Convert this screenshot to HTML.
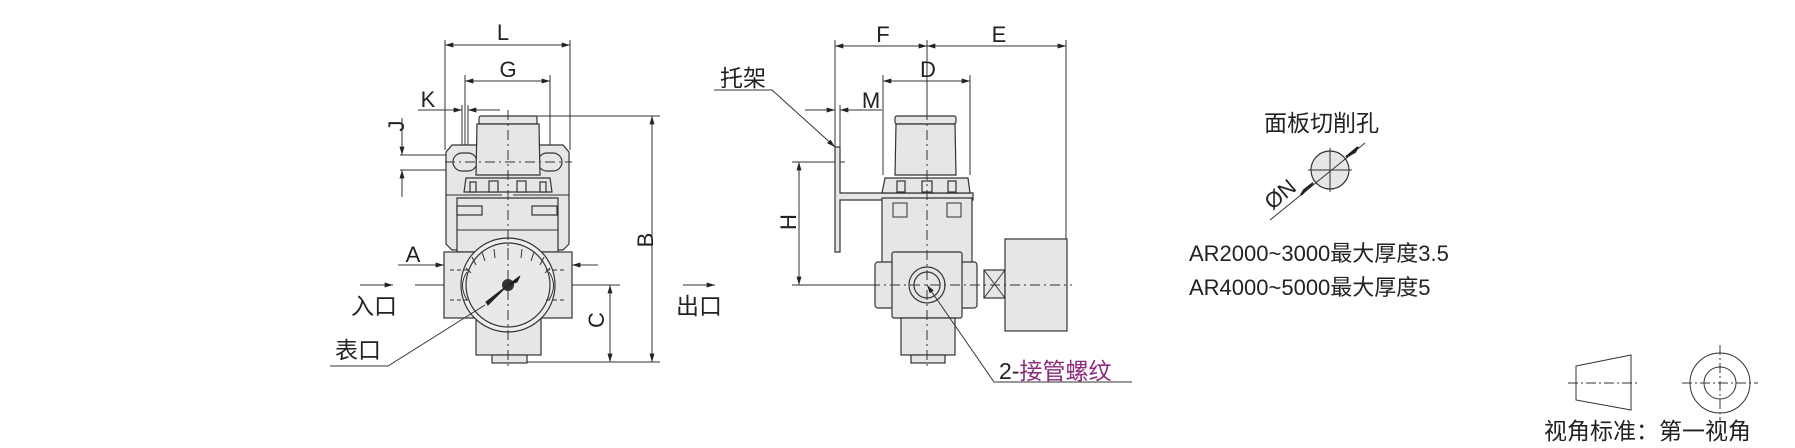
<!DOCTYPE html>
<html><head><meta charset="utf-8"><style>
html,body{margin:0;padding:0;background:#fff;width:1795px;height:448px;overflow:hidden}
svg{display:block}
text{font-family:"Liberation Sans","Noto Sans CJK SC",sans-serif;fill:#222}
</style></head><body>
<svg width="1795" height="448" viewBox="0 0 1795 448" xmlns="http://www.w3.org/2000/svg">
<defs>
<marker id="a" viewBox="0 0 10 6" refX="10" refY="3" markerWidth="14" markerHeight="5" markerUnits="userSpaceOnUse" orient="auto-start-reverse"><path d="M0,0L10,3L0,6z" fill="#222"/></marker>
</defs>
<g stroke="#333" stroke-width="1" fill="none">
<line x1="445" y1="40" x2="445" y2="150"/><line x1="570" y1="40" x2="570" y2="150"/>
<line x1="465" y1="75" x2="465" y2="175"/><line x1="550" y1="75" x2="550" y2="175"/>
<line x1="462" y1="105" x2="462" y2="175"/><line x1="468" y1="105" x2="468" y2="175"/>
<line x1="536" y1="116" x2="660" y2="116"/><line x1="527" y1="362" x2="660" y2="362"/>
<line x1="400" y1="155" x2="460" y2="155"/><line x1="400" y1="170" x2="460" y2="170"/>
<line x1="418" y1="265" x2="470" y2="265"/><line x1="545" y1="265" x2="598" y2="265"/>
<line x1="415" y1="285" x2="620" y2="285"/>
</g>
<g fill="#e6e6e8" stroke="#333" stroke-width="1.2">
<path d="M452,145 L563,145 L569,152 L569,244 L563,250 L452,250 L446,244 L446,152 Z"/>
<path d="M457,198 L558,198 L558,252 L457,252 Z"/>
<rect x="457" y="206" width="25" height="9"/><rect x="532" y="206" width="25" height="9"/>
<rect x="453" y="153" width="24" height="18" rx="9"/><rect x="538" y="153" width="24" height="18" rx="9"/>
<rect x="479" y="116" width="58" height="8" rx="2"/>
<path d="M477,124 L539,124 L540,175 L476,175 Z"/>
<path d="M466,178 L550,178 L552,192 L464,192 Z"/>
<rect x="470" y="182" width="6" height="10"/><rect x="489" y="181" width="9" height="11"/><rect x="517" y="181" width="9" height="11"/><rect x="540" y="182" width="6" height="10"/>
<rect x="444" y="252" width="128" height="66"/>
<rect x="476" y="318" width="65" height="37"/>
<rect x="492" y="355" width="35" height="8"/>
<circle cx="508" cy="285" r="47" fill="#eeeef0"/>
<circle cx="508" cy="285" r="42" fill="#e9e9eb"/>
</g>
<g stroke="#333" stroke-width="1" fill="none">
<line x1="446" y1="195" x2="502" y2="195"/><line x1="513" y1="195" x2="569" y2="195"/>
<line x1="457" y1="230" x2="558" y2="230"/>
<path d="M450,270 L470,270 M450,300 L470,300 M546,270 L566,270 M546,300 L566,300" stroke-dasharray="4,3"/>
<path d="M467,272 Q458,285 467,300 M549,272 Q558,285 549,300"/>
<path d="M472,257 L476,265 M482,252 L485,261 M494,249 L495,258 M508,248 L508,257 M522,249 L521,258 M534,252 L531,261 M544,257 L540,265 M550,268 L545,273 M466,268 L471,273"/>
<line x1="508" y1="110" x2="508" y2="370" stroke-dasharray="10,4,2,4"/>
<line x1="445" y1="162" x2="572" y2="162" stroke-dasharray="10,4,2,4"/>
</g>
<circle cx="508" cy="285" r="6" fill="#333"/>
<path d="M508,285 L488,305 L486,302 Z M508,285 L520,276 L517,282 Z" fill="#222" stroke="#222"/>
<g stroke="#333" stroke-width="1" fill="none">
<line x1="445" y1="45" x2="570" y2="45" marker-start="url(#a)" marker-end="url(#a)"/>
<line x1="465" y1="81" x2="550" y2="81" marker-start="url(#a)" marker-end="url(#a)"/>
<line x1="418" y1="110" x2="462" y2="110" marker-end="url(#a)"/><line x1="500" y1="110" x2="468" y2="110" marker-end="url(#a)"/>
<line x1="402" y1="118" x2="402" y2="155" marker-end="url(#a)"/><line x1="402" y1="197" x2="402" y2="170" marker-end="url(#a)"/>
<line x1="398" y1="265" x2="444" y2="265" marker-end="url(#a)"/><line x1="598" y1="265" x2="572" y2="265" marker-end="url(#a)"/>
<line x1="652" y1="116" x2="652" y2="362" marker-start="url(#a)" marker-end="url(#a)"/>
<line x1="610" y1="285" x2="610" y2="362" marker-start="url(#a)" marker-end="url(#a)"/>
<line x1="360" y1="285" x2="393" y2="285" marker-end="url(#a)"/>
<line x1="683" y1="285" x2="715" y2="285" marker-end="url(#a)"/>
<path d="M330,366 L388,366 L485,305"/>
</g>
<g font-size="22">
<text x="503" y="40" text-anchor="middle">L</text>
<text x="508" y="77" text-anchor="middle">G</text>
<text x="428" y="107" text-anchor="middle">K</text>
<text x="413" y="262" text-anchor="middle">A</text>
<text transform="translate(404,126) rotate(-90)" text-anchor="middle">J</text>
<text transform="translate(653,240) rotate(-90)" text-anchor="middle">B</text>
<text transform="translate(604,320) rotate(-90)" text-anchor="middle">C</text>
</g>
<g font-size="23">
<text x="374" y="314" text-anchor="middle">入口</text>
<text x="699" y="314" text-anchor="middle">出口</text>
<text x="358" y="358" text-anchor="middle">表口</text>
</g>
<g stroke="#333" stroke-width="1" fill="none">
<line x1="835" y1="40" x2="835" y2="147"/><line x1="927" y1="40" x2="927" y2="120"/><line x1="1066" y1="40" x2="1066" y2="239"/>
<line x1="883" y1="75" x2="883" y2="175"/><line x1="970" y1="75" x2="970" y2="175"/>
<line x1="840" y1="105" x2="840" y2="147"/>
<line x1="792" y1="162" x2="845" y2="162"/><line x1="792" y1="285" x2="875" y2="285"/>
</g>
<g fill="#e6e6e8" stroke="#333" stroke-width="1.2">
<path d="M835,147 L840,147 L840,193 L973,193 L973,200 L840,200 L840,252 L835,252 Z"/>
<path d="M882,198 L972,198 L972,265 L882,265 Z"/>
<rect x="895" y="116" width="61" height="8" rx="2"/>
<path d="M896,124 L955,124 L956,175 L895,175 Z"/>
<path d="M885,178 L968,178 L970,193 L882,193 Z"/>
<rect x="897" y="181" width="8" height="11"/><rect x="922" y="181" width="10" height="11"/><rect x="948" y="181" width="8" height="11"/>
<rect x="875" y="262" width="102" height="46" rx="3"/>
<rect x="892" y="252" width="70" height="66" rx="2"/>
<rect x="901" y="318" width="54" height="37"/>
<rect x="911" y="355" width="34" height="8"/>
<rect x="984" y="270" width="21" height="28"/>
<rect x="1005" y="239" width="62" height="92"/>
<circle cx="927" cy="285" r="18"/><circle cx="927" cy="285" r="13"/>
</g>
<g stroke="#333" stroke-width="1" fill="none">
<path d="M984,270 L1005,298 M1005,270 L984,298"/>
<rect x="893" y="203" width="14" height="14"/><rect x="947" y="203" width="14" height="14"/>
<line x1="927" y1="110" x2="927" y2="370" stroke-dasharray="10,4,2,4"/>
<line x1="870" y1="285" x2="1072" y2="285" stroke-dasharray="10,4,2,4"/>
<line x1="835" y1="46" x2="927" y2="46" marker-start="url(#a)" marker-end="url(#a)"/>
<line x1="927" y1="46" x2="1066" y2="46" marker-start="url(#a)" marker-end="url(#a)"/>
<line x1="883" y1="81" x2="970" y2="81" marker-start="url(#a)" marker-end="url(#a)"/>
<line x1="805" y1="110" x2="835" y2="110" marker-end="url(#a)"/><line x1="882" y1="110" x2="840" y2="110" marker-end="url(#a)"/>
<line x1="799" y1="162" x2="799" y2="285" marker-start="url(#a)" marker-end="url(#a)"/>
<path d="M714,90 L772,90 L835,147" marker-end="url(#a)"/>
<path d="M1132,382 L994,382 L927,285" marker-end="url(#a)"/>
</g>
<g font-size="22">
<text x="883" y="42" text-anchor="middle">F</text>
<text x="999" y="42" text-anchor="middle">E</text>
<text x="928" y="77" text-anchor="middle">D</text>
<text x="871" y="108" text-anchor="middle">M</text>
<text transform="translate(796,222) rotate(-90)" text-anchor="middle">H</text>
</g>
<g font-size="23">
<text x="743" y="86" text-anchor="middle">托架</text>
<text x="999" y="379">2-<tspan fill="#8b2a7e">接管螺纹</tspan></text>
</g>
<text x="1264" y="131" font-size="23">面板切削孔</text>
<circle cx="1330" cy="170" r="19" fill="#e6e6e8" stroke="#333" stroke-width="1.2"/>
<g stroke="#333" stroke-width="1" fill="none">
<line x1="1330" y1="148" x2="1330" y2="192"/><line x1="1308" y1="170" x2="1352" y2="170"/>
<line x1="1270" y1="220" x2="1365" y2="143"/>
</g>
<path d="M1313,183 L1301,195 L1304,190 Z M1346,157 L1358,147 L1355,152 Z" fill="#222" stroke="#222" stroke-width="2"/>
<text transform="translate(1285,200) rotate(-40)" font-size="22" text-anchor="middle">ØN</text>
<text x="1189" y="261" font-size="22">AR2000~3000最大厚度3.5</text>
<text x="1189" y="295" font-size="22">AR4000~5000最大厚度5</text>
<g stroke="#333" stroke-width="1" fill="none">
<path d="M1576,366 L1631,355 L1631,410 L1576,400 Z"/>
<line x1="1568" y1="383" x2="1640" y2="383" stroke-dasharray="10,3,2,3"/>
<circle cx="1720" cy="383" r="30"/><circle cx="1720" cy="383" r="16"/>
<line x1="1682" y1="383" x2="1758" y2="383" stroke-dasharray="10,3,2,3"/>
<line x1="1720" y1="345" x2="1720" y2="421" stroke-dasharray="10,3,2,3"/>
</g>
<text x="1544" y="439" font-size="23">视角标准：第一视角</text>
</svg>
</body></html>
